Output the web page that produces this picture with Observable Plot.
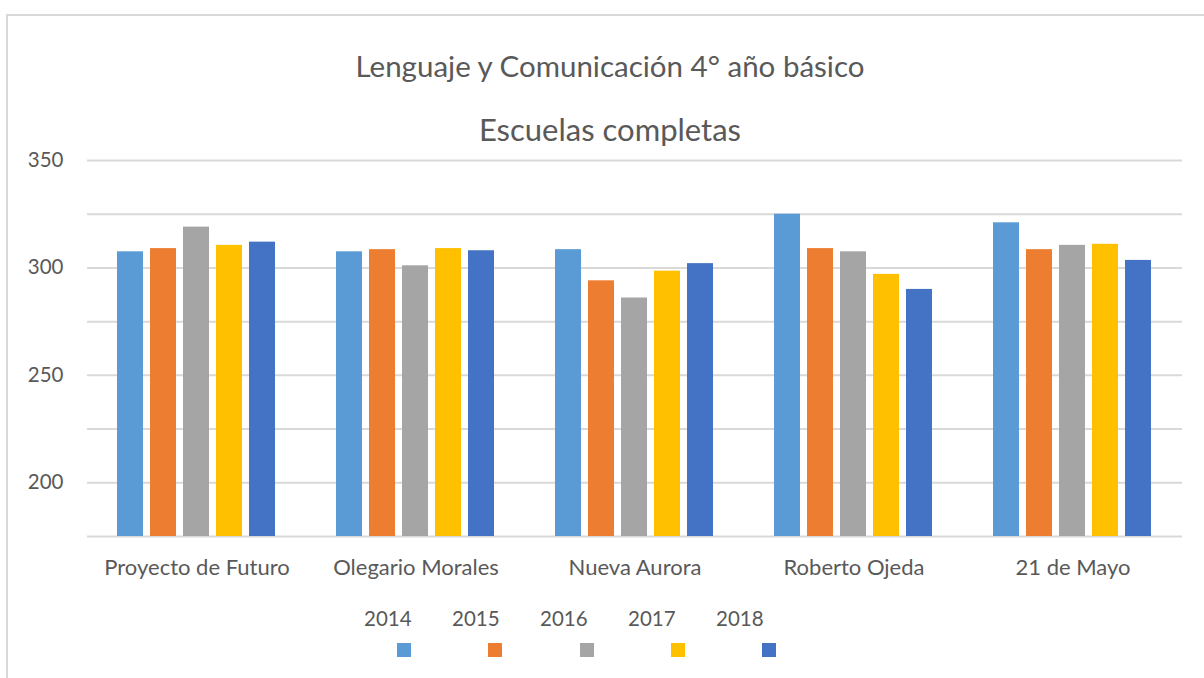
<!DOCTYPE html>
<html>
<head>
<meta charset="utf-8">
<script src="https://cdn.jsdelivr.net/npm/d3@7"></script>
<script src="https://cdn.jsdelivr.net/npm/@observablehq/plot@0.6"></script>
<style>
  html, body { margin: 0; padding: 0; background: #fff; }
  body { width: 1204px; height: 678px; position: relative; overflow: hidden; font-family: Lato, "Open Sans", sans-serif; color: #595959; }
  #frame { position: absolute; left: 6px; top: 14px; right: -4px; bottom: -4px; border-left: 2px solid #d9d9d9; border-top: 2px solid #d9d9d9; }
  .t { position: absolute; left: 0; width: 1220px; text-align: center; line-height: 1; white-space: nowrap; }
  #title { top: 51px; font-size: 29.5px; }
  #subtitle { top: 114px; font-size: 31px; }
  #chart { position: absolute; left: 0; top: 145px; }
  #legend { position: absolute; left: 0; top: 0; width: 1204px; height: 678px; }
  .lab { position: absolute; font-size: 20.5px; line-height: 1; }
  .sw { position: absolute; width: 14px; height: 14px; }
</style>
</head>
<body>
<div id="frame"></div>
<div class="t" id="title">Lenguaje y Comunicación 4° año básico</div>
<div class="t" id="subtitle">Escuelas completas</div>
<div id="chart"></div>
<div id="legend"></div>
<script>
const schools = ["Proyecto de Futuro", "Olegario Morales", "Nueva Aurora", "Roberto Ojeda", "21 de Mayo"];
const years = ["2014", "2015", "2016", "2017", "2018"];
const colors = ["#5B9BD5", "#ED7D31", "#A5A5A5", "#FFC000", "#4472C4"];
const v2014 = [307.5, 307.5, 308.5, 325, 321];
const v2015 = [309, 308.5, 294, 309, 308.5];
const v2016 = [319, 301, 286, 307.5, 310.5];
const v2017 = [310.5, 309, 298.5, 297, 311];
const v2018 = [312, 308, 302, 290, 303.5];
const yTickLabels = [200, 250, 300, 350];
const gridTicks = [175, 200, 225, 250, 275, 300, 325, 350];
const yMin = 175, yMax = 350;

const series = [v2014, v2015, v2016, v2017, v2018];
const data = [];
schools.forEach((s, i) => years.forEach((y, j) => data.push({school: s, year: y, value: series[j][i]})));

const chart = Plot.plot({
  width: 1204,
  height: 451,
  marginLeft: 87,
  marginRight: 22,
  marginTop: 15,
  marginBottom: 60,
  style: {fontFamily: "Lato, 'Open Sans', sans-serif", fontSize: "20.5px", color: "#595959", background: "transparent"},
  fx: {domain: schools, padding: 0, label: null, tickSize: 0, tickPadding: 23, axis: "bottom", fontSize: 22},
  x: {domain: years, paddingInner: 0.2, paddingOuter: 0.85, axis: null},
  y: {domain: [yMin, yMax], ticks: yTickLabels, tickSize: 0, tickPadding: 24, label: null, grid: false},
  color: {domain: years, range: colors},
  marks: [
    Plot.ruleY(gridTicks, {stroke: "#d9d9d9", strokeWidth: 2}),
    Plot.barY(data, {fx: "school", x: "year", y1: yMin, y2: "value", fill: "year"})
  ]
});
document.getElementById("chart").appendChild(chart);
// enlarge category labels slightly (fx axis)
chart.querySelectorAll("g[aria-label='fx-axis tick label'] text, g[aria-label='fx-axis'] text").forEach(t => t.style.fontSize = "22px");

const leg = document.getElementById("legend");
years.forEach((y, i) => {
  const lab = document.createElement("div");
  lab.className = "lab";
  lab.textContent = y;
  lab.style.left = (364 + i * 88) + "px";
  lab.style.top = "608px";
  leg.appendChild(lab);
  const sw = document.createElement("div");
  sw.className = "sw";
  sw.style.background = colors[i];
  sw.style.left = (397 + i * 91.3) + "px";
  sw.style.top = "643px";
  leg.appendChild(sw);
});
</script>
</body>
</html>
